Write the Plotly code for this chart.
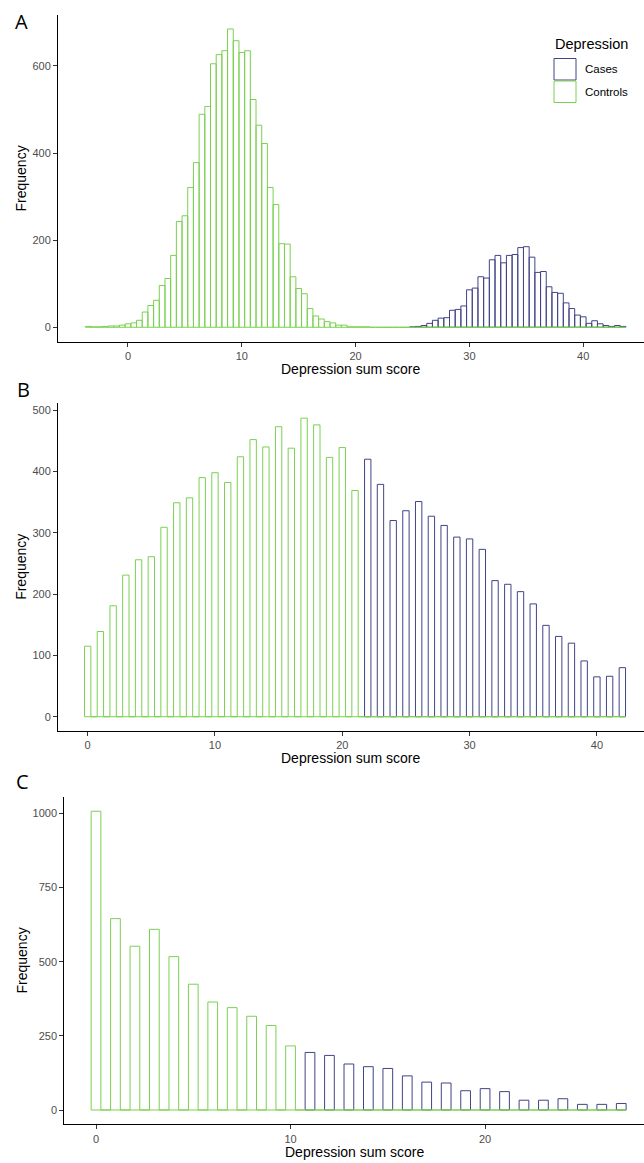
import plotly.graph_objects as go

W, H = 644, 1163

# ---------------- DATA ----------------
group_names = ["Cases", "Controls"]

# Panel A: continuous sum scores, histogram bins of width 0.5 (bin centres)
a_control_bins = [-3.5, -3.0, -2.5, -2.0, -1.5, -1.0, -0.5, 0.0, 0.5, 1.0,
                  1.5, 2.0, 2.5, 3.0, 3.5, 4.0, 4.5, 5.0, 5.5, 6.0,
                  6.5, 7.0, 7.5, 8.0, 8.5, 9.0, 9.5, 10.0, 10.5, 11.0,
                  11.5, 12.0, 12.5, 13.0, 13.5, 14.0, 14.5, 15.0, 15.5, 16.0,
                  16.5, 17.0, 17.5, 18.0, 18.5, 19.0, 19.5, 20.0, 20.5, 21.0]
a_control_counts = [2, 1, 1, 2, 3, 3, 5, 8, 10, 16,
                    35, 50, 62, 96, 112, 165, 243, 256, 321, 378,
                    489, 507, 605, 626, 635, 685, 658, 631, 635, 523,
                    464, 422, 321, 282, 192, 191, 116, 89, 77, 43,
                    26, 19, 13, 10, 5, 5, 1, 1, 1, 1]
a_case_bins = [25.0, 25.5, 26.0, 26.5, 27.0, 27.5, 28.0, 28.5, 29.0, 29.5,
               30.0, 30.5, 31.0, 31.5, 32.0, 32.5, 33.0, 33.5, 34.0, 34.5,
               35.0, 35.5, 36.0, 36.5, 37.0, 37.5, 38.0, 38.5, 39.0, 39.5,
               40.0, 40.5, 41.0, 41.5, 42.0, 42.5, 43.0, 43.5]
a_case_counts = [1, 2, 4, 9, 16, 21, 22, 39, 41, 49,
                 86, 90, 116, 113, 155, 165, 148, 165, 167, 183,
                 185, 161, 126, 128, 93, 80, 78, 56, 43, 28,
                 24, 9, 15, 8, 4, 2, 4, 2]
a_bin_range = [-3.5, 43.5]

# Panel B: integer sum scores
b_control_scores = [0, 1, 2, 3, 4, 5, 6, 7, 8, 9, 10, 11, 12, 13, 14, 15, 16, 17, 18, 19, 20, 21]
b_control_counts = [115, 139, 181, 231, 256, 261, 309, 349, 357, 390, 398,
                    382, 424, 452, 440, 473, 438, 487, 476, 423, 439, 369]
b_case_scores = [22, 23, 24, 25, 26, 27, 28, 29, 30, 31, 32, 33, 34, 35, 36, 37, 38, 39, 40, 41, 42]
b_case_counts = [420, 379, 320, 336, 351, 327, 312, 293, 290, 273, 222,
                 216, 204, 184, 149, 131, 120, 91, 65, 66, 80]
b_bin_range = [0, 42]

# Panel C: integer sum scores
c_control_scores = [0, 1, 2, 3, 4, 5, 6, 7, 8, 9, 10]
c_control_counts = [1007, 645, 552, 609, 517, 424, 364, 345, 316, 285, 216]
c_case_scores = [11, 12, 13, 14, 15, 16, 17, 18, 19, 20, 21, 22, 23, 24, 25, 26, 27]
c_case_counts = [194, 184, 155, 146, 140, 115, 94, 91, 65, 72, 62, 33, 33, 38, 19, 19, 22]
c_bin_range = [0, 27]

x_ticks_ab = [0, 10, 20, 30, 40]
x_ticks_c = [0, 10, 20]
y_ticks_a = [0, 200, 400, 600]
y_ticks_b = [0, 100, 200, 300, 400, 500]
y_ticks_c = [0, 250, 500, 750, 1000]

panel_labels = ["A", "B", "C"]
x_title = "Depression sum score"
y_title = "Frequency"
legend_title = "Depression"

# ---------------- STYLE ----------------
BINW = 0.5
CASE_COL = "#414487"
CTRL_COL = "#7AD151"
FONT = "Liberation Sans, Arial, Helvetica, sans-serif"


def grid(lo, hi, step=BINW):
    n = int(round((hi - lo) / step))
    return [round(lo + i * step, 2) for i in range(n + 1)]


def full_hist(bins, counts, rng):
    """Histogram over the full bin grid; bins with no observations are empty (0)."""
    lookup = {round(b, 2): c for b, c in zip(bins, counts)}
    g = grid(rng[0], rng[1])
    return g, [lookup.get(b, 0) for b in g]


def bar(x, y, color, xa, ya, name):
    return go.Bar(x=x, y=y, width=BINW, name=name, showlegend=False,
                  marker=dict(color="rgba(255,255,255,0)", line=dict(color=color, width=1)),
                  xaxis=xa, yaxis=ya, hoverinfo="x+y+name")


fig = go.Figure()

# A
fig.add_trace(bar(a_case_bins, a_case_counts, CASE_COL, "x", "y", group_names[0]))
gx, gy = full_hist(a_control_bins, a_control_counts, a_bin_range)
fig.add_trace(bar(gx, gy, CTRL_COL, "x", "y", group_names[1]))
# B
fig.add_trace(bar(b_case_scores, b_case_counts, CASE_COL, "x2", "y2", group_names[0]))
gx, gy = full_hist(b_control_scores, b_control_counts, b_bin_range)
fig.add_trace(bar(gx, gy, CTRL_COL, "x2", "y2", group_names[1]))
# C
fig.add_trace(bar(c_case_scores, c_case_counts, CASE_COL, "x3", "y3", group_names[0]))
gx, gy = full_hist(c_control_scores, c_control_counts, c_bin_range)
fig.add_trace(bar(gx, gy, CTRL_COL, "x3", "y3", group_names[1]))


def px_x(p):
    return p / W


def px_y(p):
    return 1 - p / H


def xax(domain, rng, ticks, anchor):
    return dict(domain=domain, range=rng, tickvals=ticks, ticks="outside", ticklen=4,
                tickwidth=1, tickcolor="#333333", showline=True, linecolor="black",
                linewidth=1, showgrid=False, zeroline=False, anchor=anchor,
                tickfont=dict(size=11, color="#4D4D4D", family=FONT),
                automargin=False, fixedrange=True)


def yax(domain, rng, ticks, anchor):
    return dict(domain=domain, range=rng, tickvals=ticks, ticks="outside", ticklen=4,
                tickwidth=1, tickcolor="#333333", showline=True, linecolor="black",
                linewidth=1, showgrid=False, zeroline=False, anchor=anchor,
                tickfont=dict(size=11, color="#4D4D4D", family=FONT),
                automargin=False, fixedrange=True)


# pixel geometry of the three panels (left, top, bottom)
pa = dict(l=58, t=15, b=342)
pb = dict(l=58, t=403, b=730.7)
pc = dict(l=64.3, t=796.7, b=1124.3)

fig.update_layout(
    width=W, height=H,
    margin=dict(l=0, r=0, t=0, b=0),
    paper_bgcolor="white", plot_bgcolor="white",
    barmode="overlay",
    font=dict(family=FONT, color="black"),
    showlegend=False,
    xaxis=xax([px_x(pa["l"]), 1], [-6.15, 45.34], x_ticks_ab, "y"),
    yaxis=yax([px_y(pa["b"]), px_y(pa["t"])], [-33.8, 717], y_ticks_a, "x"),
    xaxis2=xax([px_x(pb["l"]), 1], [-2.33, 43.70], x_ticks_ab, "y2"),
    yaxis2=yax([px_y(pb["b"]), px_y(pb["t"])], [-22.8, 511.7], y_ticks_b, "x2"),
    xaxis3=xax([px_x(pc["l"]), 1], [-1.63, 28.17], x_ticks_c, "y3"),
    yaxis3=yax([px_y(pc["b"]), px_y(pc["t"])], [-48.2, 1056], y_ticks_c, "x3"),
)

ann = []
# panel letters
for lab, (lx, ly) in zip(panel_labels, [(13, 22), (15, 389), (14, 781)]):
    ann.append(dict(text=lab, x=px_x(lx), y=px_y(ly), xref="paper", yref="paper",
                    xanchor="left", yanchor="middle", showarrow=False,
                    font=dict(size=20, family="Open Sans, Noto Sans, sans-serif", color="black")))
# axis titles
for p, ty in [(pa, 369), (pb, 758), (pc, 1152)]:
    ann.append(dict(text=x_title, x=px_x((p["l"] + W) / 2), y=px_y(ty), xref="paper", yref="paper",
                    xanchor="center", yanchor="middle", showarrow=False,
                    font=dict(size=14, family=FONT, color="black")))
    ann.append(dict(text=y_title, x=px_x(21), y=px_y((p["t"] + p["b"]) / 2), xref="paper", yref="paper",
                    xanchor="center", yanchor="middle", showarrow=False, textangle=-90,
                    font=dict(size=14, family=FONT, color="black")))
# legend (panel A)
ann.append(dict(text=legend_title, x=px_x(553), y=px_y(44.5), xref="paper", yref="paper",
                xanchor="left", yanchor="middle", showarrow=False,
                font=dict(size=14.5, family=FONT, color="black")))
shapes = []
for name, col, (y0, y1) in zip(group_names, [CASE_COL, CTRL_COL], [(58.5, 80), (81, 102.5)]):
    shapes.append(dict(type="rect", xref="paper", yref="paper",
                       x0=px_x(554), x1=px_x(576), y0=px_y(y1), y1=px_y(y0),
                       line=dict(color=col, width=1), fillcolor="white"))
    ann.append(dict(text=name, x=px_x(583), y=px_y((y0 + y1) / 2), xref="paper", yref="paper",
                    xanchor="left", yanchor="middle", showarrow=False,
                    font=dict(size=11.5, family=FONT, color="black")))

fig.update_layout(annotations=ann, shapes=shapes)

fig.write_html("out.html", include_plotlyjs=True,
               config=dict(displayModeBar=False, staticPlot=True),
               post_script="document.body.style.margin='0';document.body.style.overflow='hidden';")
